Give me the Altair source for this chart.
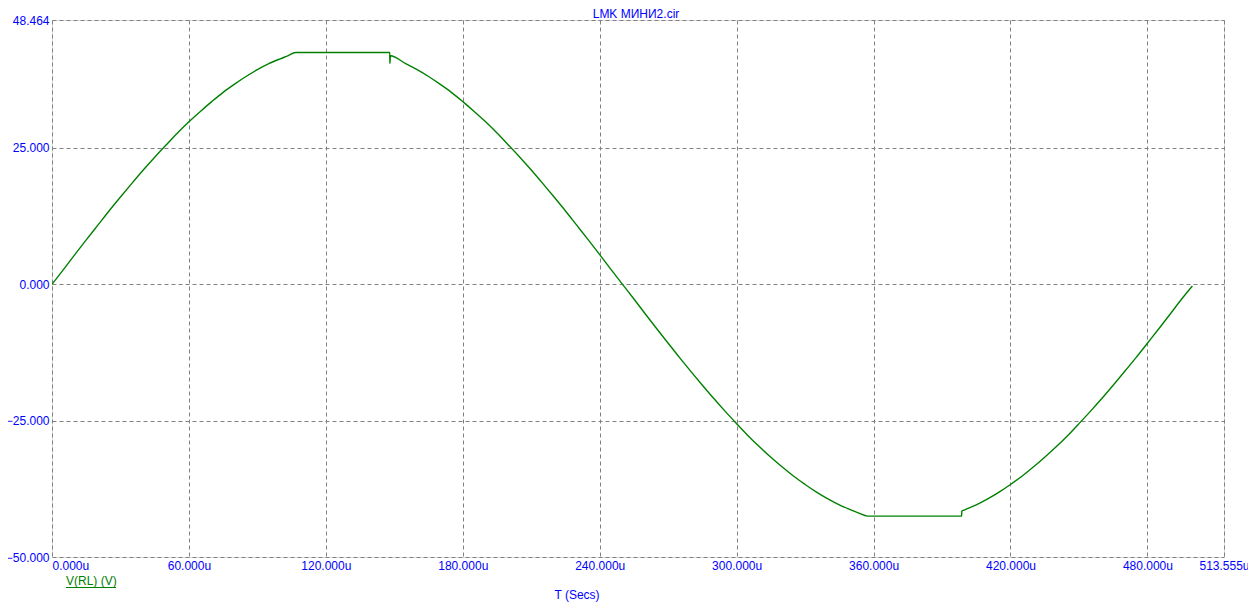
import altair as alt
import pandas as pd

# time in microseconds, voltage in volts
t_us = [0, 5, 10, 15, 20, 25, 30, 35, 40, 45, 50, 55, 60, 65, 70, 75, 80, 85, 90, 95, 100, 103, 106.8,
        148.0, 148.05, 148.3, 155, 160, 165, 170, 175, 180, 185, 190, 195, 200, 205, 210, 215,
        220, 225, 230, 235, 240, 245, 250, 255, 260, 265, 270, 275, 280, 285, 290, 295,
        300, 305, 310, 315, 320, 325, 330, 335, 340, 345, 350, 353, 357.5,
        398.6, 398.65, 400, 405, 410, 415, 420, 425, 430, 435, 440, 445, 450, 455,
        460, 465, 470, 475, 480, 485, 490, 495, 499.7]
v_rl = [0.0, 2.7, 5.45, 8.15, 10.8, 13.45, 16.0, 18.5, 20.95, 23.3, 25.55, 27.75, 29.8, 31.7, 33.5,
        35.2, 36.7, 38.1, 39.35, 40.45, 41.35, 41.85, 42.5,
        42.5, 40.5, 41.9, 40.45, 39.35, 38.1, 36.7, 35.2, 33.5, 31.7, 29.8, 27.75, 25.55, 23.3, 20.95,
        18.5, 16.0, 13.45, 10.8, 8.15, 5.45, 2.7, 0.0, -2.7, -5.45, -8.15, -10.8, -13.45, -16.0, -18.5,
        -20.95, -23.3, -25.55, -27.75, -29.8, -31.7, -33.5, -35.2, -36.7, -38.1, -39.35, -40.45, -41.35,
        -41.85, -42.5,
        -42.5, -41.6, -41.35, -40.45, -39.35, -38.1, -36.7, -35.2, -33.5, -31.7, -29.8, -27.75, -25.55,
        -23.3, -20.95, -18.5, -16.0, -13.45, -10.8, -8.15, -5.45, -2.7, -0.3]

x_ticks = [0, 60, 120, 180, 240, 300, 360, 420, 480, 513.555]
y_ticks = [-50, -25, 0, 25, 48.464]

title_text = "LMK МИНИ2.cir"
x_title = "T (Secs)"
legend_text = "V(RL) (V)"

FONT = "Liberation Sans"
BLUE = "#0000ff"
GREEN = "#008000"
GRID = "#808080"

df = pd.DataFrame({"t": t_us, "v": v_rl, "i": list(range(len(t_us)))})

W, H = 1172, 537

line = alt.Chart(df).mark_line(color=GREEN, strokeWidth=1.4, clip=True,
                               interpolate="monotone").encode(
    x=alt.X("t:Q",
            scale=alt.Scale(domain=[0, 513.555], nice=False, zero=False),
            axis=alt.Axis(values=x_ticks,
                          labelExpr="format(datum.value, '.3f') + 'u'",
                          title=None,
                          labelFont=FONT, labelFontSize=12, labelColor=BLUE,
                          labelAlign={"condition": {"test": "datum.value == 0", "value": "left"}, "value": "center"},
                          labelBound=False, labelOverlap=False, labelFlush=False,
                          labelPadding=3,
                          ticks=False, domain=False,
                          grid=True, gridColor=GRID, gridDash=[4, 3], gridWidth=1, gridOpacity=1)),
    y=alt.Y("v:Q",
            scale=alt.Scale(domain=[-50, 48.464], nice=False, zero=False),
            axis=alt.Axis(values=y_ticks,
                          labelExpr="format(datum.value, '.3f')",
                          title=None,
                          labelFont=FONT, labelFontSize=12, labelColor=BLUE,
                          labelBaseline="middle", labelBound=False, labelOverlap=False,
                          labelFlush=False, labelPadding=3,
                          ticks=False, domain=False,
                          grid=True, gridColor=GRID, gridDash=[4, 3], gridWidth=1, gridOpacity=1)),
    order="i:Q",
)

txt_df = pd.DataFrame({"label": [title_text, x_title, legend_text]})

title_mark = alt.Chart(txt_df.iloc[[0]]).mark_text(
    font=FONT, fontSize=12, color=BLUE, align="center", baseline="middle"
).encode(x=alt.value(584), y=alt.value(-6), text="label:N")

xtitle_mark = alt.Chart(txt_df.iloc[[1]]).mark_text(
    font=FONT, fontSize=12, color=BLUE, align="center", baseline="middle"
).encode(x=alt.value(525), y=alt.value(575), text="label:N")

legend = alt.Chart(txt_df.iloc[[2]]).mark_text(
    font=FONT, fontSize=12, color=GREEN, align="left", baseline="middle"
).encode(x=alt.value(14), y=alt.value(561), text="label:N")

underline = alt.Chart(txt_df.iloc[[2]]).mark_rule(color=GREEN, strokeWidth=1).encode(
    x=alt.value(14), x2=alt.value(64), y=alt.value(567.5)
)

chart = alt.layer(line, title_mark, xtitle_mark, legend, underline).properties(
    width=W, height=H,
    autosize=alt.AutoSizeParams(type="none"),
    padding={"left": 44, "top": 12, "right": 24, "bottom": 48},
).configure_view(stroke=GRID, strokeWidth=1).configure(background="white")

chart.save("out.html", embed_options={"renderer": "svg", "actions": False})
